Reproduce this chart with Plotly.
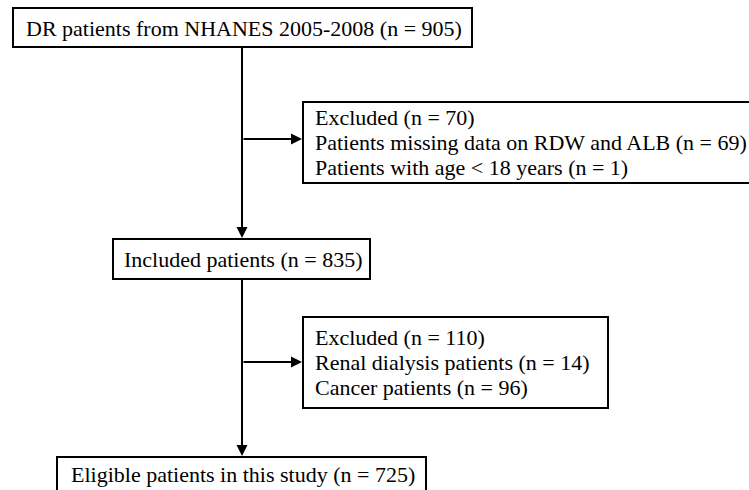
import plotly.graph_objects as go

# Flowchart content
main_labels = [
    "DR patients from NHANES 2005-2008 (n = 905)",
    "Included patients (n = 835)",
    "Eligible patients in this study (n = 725)",
]
excl1_lines = [
    "Excluded (n = 70)",
    "Patients missing data on RDW and ALB (n = 69)",
    "Patients with age < 18 years (n = 1)",
]
excl2_lines = [
    "Excluded (n = 110)",
    "Renal dialysis patients (n = 14)",
    "Cancer patients (n = 96)",
]

W, H = 749, 490
FONT = dict(family="Liberation Serif, Times New Roman, serif", size=22, color="black")
LW = 2
CX = 242

# Box geometry (pixel coords, y downward)
main_boxes = [(13, 8, 472, 47), (113, 239, 370, 279), (57, 457, 426, 500)]
main_text_y = [28, 259, 474]
excl_boxes = [(303, 102, 752, 183), (303, 317, 608, 408)]

fig = go.Figure()
shapes = []
annotations = []

for (x0, y0, x1, y1), ty, lab in zip(main_boxes, main_text_y, main_labels):
    shapes.append(dict(type="rect", xref="x", yref="y", x0=x0, y0=y0, x1=x1, y1=y1,
                       line=dict(color="black", width=LW), fillcolor="white", layer="above"))
    annotations.append(dict(x=(x0 + x1) / 2 + 1, y=ty,
                            xref="x", yref="y", text=lab, showarrow=False,
                            xanchor="center", yanchor="middle", font=FONT))

for (x0, y0, x1, y1), lines in zip(excl_boxes, [excl1_lines, excl2_lines]):
    shapes.append(dict(type="rect", xref="x", yref="y", x0=x0, y0=y0, x1=x1, y1=y1,
                       line=dict(color="black", width=LW), fillcolor="white", layer="above"))
    yc = (y0 + y1) / 2
    for i, t in enumerate(lines):
        annotations.append(dict(x=x0 + 10, y=yc + (i - 1) * 25, xref="x", yref="y", text=t,
                                showarrow=False, xanchor="left", yanchor="middle", font=FONT))

# Vertical connectors
shapes.append(dict(type="line", xref="x", yref="y", x0=CX, y0=47, x1=CX, y1=230,
                   line=dict(color="black", width=LW)))
shapes.append(dict(type="line", xref="x", yref="y", x0=CX, y0=279, x1=CX, y1=448,
                   line=dict(color="black", width=LW)))

# Arrows
arrow_specs = [
    (CX, 200, CX, 238),   # down to included
    (CX, 420, CX, 456),   # down to eligible
    (CX, 139, 302, 139),  # right to excluded 1
    (CX, 362, 302, 362),  # right to excluded 2
]
for ax, ay, x, y in arrow_specs:
    annotations.append(dict(x=x, y=y, ax=ax, ay=ay, xref="x", yref="y", axref="x", ayref="y",
                            showarrow=True, arrowhead=2, arrowsize=1.1, arrowwidth=LW,
                            arrowcolor="black", standoff=0, text=""))

fig.update_layout(
    width=W, height=H,
    margin=dict(l=0, r=0, t=0, b=0),
    paper_bgcolor="white", plot_bgcolor="white",
    xaxis=dict(range=[0, W], visible=False, fixedrange=True),
    yaxis=dict(range=[H, 0], visible=False, fixedrange=True),
    shapes=shapes, annotations=annotations,
    showlegend=False,
)

fig.write_html("out.html", config={"displayModeBar": False},
               post_script="document.body.style.margin='0';document.body.style.overflow='hidden';")
